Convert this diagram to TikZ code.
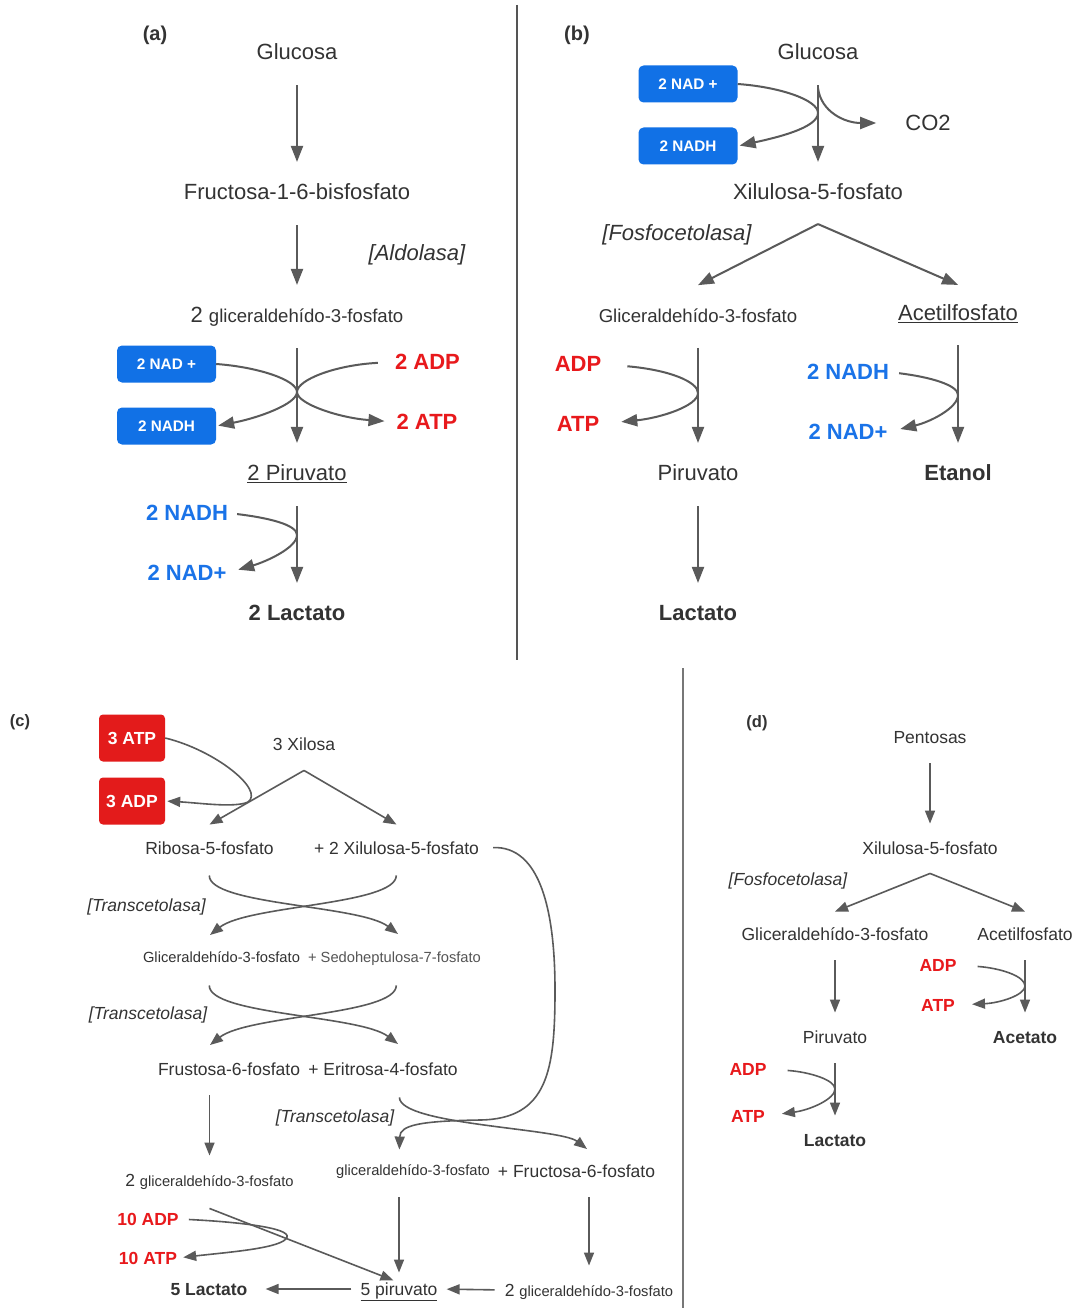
\documentclass[tikz,border=0pt]{standalone}
\usepackage{fontspec}
\setmainfont{Liberation Sans}
\usetikzlibrary{arrows.meta,calc}

\definecolor{txtgray}{HTML}{333333}
\definecolor{arrgray}{HTML}{5A5A5A}
\definecolor{divgray}{HTML}{555555}
\definecolor{nadblue}{HTML}{1A73E8}
\definecolor{boxblue}{HTML}{1171E6}
\definecolor{atpred}{HTML}{E8191C}
\definecolor{boxred}{HTML}{E31B1B}

\newcommand{\fsz}[1]{\fontsize{#1}{#1}\selectfont}

\tikzset{
  every node/.style={inner sep=0pt, text=txtgray},
  big/.style={font=\fsz{22}, text height=15.75pt, text depth=0pt},
  bigb/.style={big, font=\fsz{22}\bfseries},
  bigi/.style={big, font=\fsz{22}\itshape},
  med/.style={font=\fsz{18.6}, text height=13.3pt, text depth=0pt},
  mid/.style={font=\fsz{17.5}, text height=12.5pt, text depth=0pt},
  midb/.style={mid, font=\fsz{17.5}\bfseries},
  midi/.style={mid, font=\fsz{17.5}\itshape},
  sml/.style={font=\fsz{14.7}, text height=10.5pt, text depth=0pt},
  lab/.style={font=\fsz{20}\bfseries, text height=14.5pt, text depth=0pt},
  labc/.style={font=\fsz{16.5}\bfseries, text height=12pt, text depth=0pt},
  redt/.style={text=atpred},
  bluet/.style={text=nadblue},
  nadbox/.style={fill=boxblue, rounded corners=5pt, minimum width=99pt, minimum height=37pt,
    text=white, font=\fsz{15.3}\bfseries, text height=11pt, text depth=0pt},
  atpbox/.style={fill=boxred, rounded corners=4pt, minimum width=66pt, minimum height=47pt,
    text=white, font=\fsz{17.5}\bfseries, text height=12.5pt, text depth=0pt},
  arr/.style={draw=arrgray, line width=2pt, -{Triangle[length=16pt,width=12pt]}},
  arrc/.style={draw=arrgray, line width=1.6pt, -{Triangle[length=13pt,width=10pt]}},
  flow/.style={arr, shorten <=25pt, shorten >=22pt},
  flowc/.style={arrc, shorten <=20pt, shorten >=18pt}
}

\begin{document}
\begin{tikzpicture}[x=1pt,y=-1pt]
\fill[white] (0,0) rectangle (1078,1308);
\useasboundingbox (0,0) rectangle (1078,1308);

% dividers
\draw[line width=2pt, draw=divgray] (517,5) -- (517,660);
\draw[line width=1.5pt, draw=divgray!80] (683,668) -- (683,1308);

% (a) glucolisis
\node[lab] (labA) at (155,33) {(a)};
\node[big] (gluA) at (297,52) {Glucosa};
\node[big] (fruA) at (297,192) {Fructosa-1-6-bisfosfato};
\node[bigi] (aldA) at (417,253) {[Aldolasa]};
\node[big] (gapA) at (297,315) {2 {\fsz{18.6}gliceraldehído-3-fosfato}};
\node[nadbox] (nadA) at (166.5,364) {2 NAD +};
\node[nadbox] (nadhA) at (166.5,426) {2 NADH};
\node[bigb, redt] (adpA) at (427.5,362) {2 ADP};
\node[bigb, redt] (atpA) at (427,422) {2 ATP};
\node[big] (pirA) at (297,473) {\underline{2 Piruvato}};
\node[bigb, bluet] (nadhA2) at (187,513) {2 NADH};
\node[bigb, bluet] (nadA2) at (187,573) {2 NAD+};
\node[bigb] (lacA) at (297,613) {2 Lactato};
\coordinate (mA) at (297,392);
\coordinate (mA2) at (297,535);

\draw[flow] (gluA) -- (fruA);
\draw[flow] (fruA) -- (gapA);
\draw[flow] (gapA) -- (pirA);
\draw[flow] (pirA) -- (lacA);
\draw[arr, shorten >=2pt] (nadA.east) .. controls (258,367) and (297,380) .. (mA)
  .. controls (297,404) and (258,418) .. (nadhA.east);
\draw[arr, shorten <=17pt, shorten >=12pt] (adpA.west) .. controls (335,365) and (297,380) .. (mA)
  .. controls (297,404) and (340,418) .. (atpA.west);
\draw[arr, shorten <=9pt, shorten >=12pt] (nadhA2.east) .. controls (270,518) and (297,525) .. (mA2)
  .. controls (297,548) and (265,562) .. (nadA2.east);

% (b) fosfocetolasa
\node[lab] (labB) at (577,33) {(b)};
\node[big] (gluB) at (818,52) {Glucosa};
\node[nadbox] (nadB) at (688,84) {2 NAD +};
\node[nadbox] (nadhB) at (688,146) {2 NADH};
\node[big] (co2B) at (928,123) {CO2};
\node[big] (xilB) at (818,192) {Xilulosa-5-fosfato};
\node[bigi] (fosB) at (677,233) {[Fosfocetolasa]};
\node[med] (glB) at (698,316) {Gliceraldehído-3-fosfato};
\node[big] (acetB) at (958,313) {\underline{Acetilfosfato}};
\node[bigb, redt] (adpB) at (578,364) {ADP};
\node[bigb, redt] (atpB) at (578,424) {ATP};
\node[bigb, bluet] (nadhB2) at (848,372) {2 NADH};
\node[bigb, bluet] (nadB2) at (848,432) {2 NAD+};
\node[big] (pirB) at (698,473) {Piruvato};
\node[bigb] (etB) at (958,473) {Etanol};
\node[bigb] (lacB) at (698,613) {Lactato};
\coordinate (mB) at (818,113);
\coordinate (mB2) at (698,393);
\coordinate (mB3) at (958,395);

\draw[flow] (gluB) -- (xilB);
\draw[arr, shorten >=2pt] (nadB.east) .. controls (780,87) and (818,100) .. (mB)
  .. controls (818,128) and (775,138) .. (nadhB.east);
\draw[arr, shorten >=29pt] ([yshift=-28pt]gluB.south) .. controls (821,112) and (845,123) .. (co2B.west);
\draw[arr] ([yshift=-24pt]xilB.south) -- ([yshift=24pt]glB.north);
\draw[arr] ([yshift=-24pt]xilB.south) -- ([yshift=20pt]acetB.north);
\draw[flow] (glB) -- (pirB);
\draw[flow, shorten <=24pt] (acetB) -- (etB);
\draw[flow] (pirB) -- (lacB);
\draw[arr, shorten <=26pt, shorten >=22pt] (adpB.east) .. controls (670,370) and (698,382) .. (mB2)
  .. controls (698,406) and (660,418) .. (atpB.east);
\draw[arr, shorten <=10pt, shorten >=13pt] (nadhB2.east) .. controls (930,377) and (958,385) .. (mB3)
  .. controls (958,408) and (930,422) .. (nadB2.east);

% (c) pentosas fosfato
\node[labc] (labC) at (20,720) {(c)};
\node[atpbox] (atpC) at (132,738) {3 ATP};
\node[atpbox] (adpC) at (132,801) {3 ADP};
\node[mid] (xilC) at (304,744) {3 Xilosa};
\node[mid] (riboC) at (209.5,848) {Ribosa-5-fosfato};
\node[mid] (xil2C) at (396.5,848) {+ 2 Xilulosa-5-fosfato};
\node[midi] (tra1C) at (146.5,905) {[Transcetolasa]};
\node[sml] (gsC) at (221.5,957) {Gliceraldehído-3-fosfato};
\node[sml, text=divgray] (sedC) at (394.5,957) {+ Sedoheptulosa-7-fosfato};
\node[midi] (tra2C) at (148,1013) {[Transcetolasa]};
\node[mid] (frC) at (229,1069) {Frustosa-6-fosfato};
\node[mid] (erC) at (383,1069) {+ Eritrosa-4-fosfato};
\node[midi] (tra3C) at (335,1116) {[Transcetolasa]};
\node[mid] (gap2C) at (209.5,1180) {2 {\fsz{14.7}gliceraldehído-3-fosfato}};
\node[sml] (gp1C) at (413,1170) {gliceraldehído-3-fosfato};
\node[mid] (fr6C) at (576.5,1171) {+ Fructosa-6-fosfato};
\node[midb, redt] (adp10) at (148,1219) {10 ADP};
\node[midb, redt] (atp10) at (148,1258) {10 ATP};
\node[midb] (lac5C) at (209,1289) {5 Lactato};
\node[mid] (pir5C) at (399,1289) {\underline{5 piruvato}};
\node[mid] (g3C) at (589,1290) {2 {\fsz{14.7}gliceraldehído-3-fosfato}};
\coordinate (tC) at (248,802);
\coordinate (tC2) at (287,1237);
\coordinate (x1R) at (398,934);
\coordinate (x1L) at (210,935);
\coordinate (x2R) at (398,1044);
\coordinate (x2L) at (210,1045);
\coordinate (frTip) at (587,1149);

\draw[arrc, shorten >=2pt] (atpC.east) .. controls (215,750) and (265,790) .. (tC)
  .. controls (235,808) and (200,803) .. (adpC.east);
\draw[arrc] ([yshift=-20pt]xilC.south) -- ([yshift=17pt]riboC.north);
\draw[arrc] ([yshift=-20pt]xilC.south) -- ([yshift=17pt]xil2C.north);
\draw[arrc, shorten <=21pt] (riboC.south) .. controls (209,905) and (360,905) .. (x1R);
\draw[arrc, shorten <=21pt] (xil2C.south) .. controls (396,905) and (248,905) .. (x1L);
\draw[arrc, shorten <=23pt] (riboC |- gsC.south) .. controls (209,1015) and (360,1015) .. (x2R);
\draw[arrc, shorten <=23pt] (xil2C |- sedC.south) .. controls (396,1015) and (248,1015) .. (x2L);
\draw[arrc, shorten <=14pt, shorten >=15pt] (xil2C.east) .. controls (540,846) and (555,910) .. (555,990)
  .. controls (555,1070) and (548,1119) .. (480,1120) .. controls (420,1121) and (400,1125) .. (pir5C |- gp1C.north);
\draw[arrc, shorten <=22pt] (pir5C |- erC.south) .. controls (400,1125) and (560,1128) .. (frTip);
\draw[flowc] (gap2C |- frC.south) -- (gap2C.north);
\draw[flowc, shorten <=22pt, shorten >=10pt] (pir5C |- gp1C.south) -- (pir5C.north);
\draw[flowc] (g3C |- fr6C.south) -- (g3C.north);
\draw[arrc, shorten >=6pt] ([yshift=-22pt]gap2C.south) -- (pir5C.north);
\draw[arrc, shorten <=10pt, shorten >=6pt] (adp10.east) .. controls (240,1222) and (290,1228) .. (tC2)
  .. controls (284,1248) and (230,1252) .. (atp10.east);
\draw[arrc, shorten <=9pt, shorten >=18pt] (pir5C.west) -- (lac5C.east);
\draw[arrc, shorten <=10pt, shorten >=9pt] (g3C.west) -- (pir5C.east);

% (d) pentosas
\node[labc] (labD) at (757,721) {(d)};
\node[mid] (pentD) at (930,737) {Pentosas};
\node[mid] (xilD) at (930,848) {Xilulosa-5-fosfato};
\node[midi] (fosD) at (788,879) {[Fosfocetolasa]};
\node[mid] (glD) at (835,934) {Gliceraldehído-3-fosfato};
\node[mid] (acD) at (1025,934) {Acetilfosfato};
\node[midb, redt] (adpD1) at (938,965) {ADP};
\node[midb, redt] (atpD1) at (938,1005) {ATP};
\node[mid] (pirD) at (835,1037) {Piruvato};
\node[midb] (acetD) at (1025,1037) {Acetato};
\node[midb, redt] (adpD2) at (748,1069) {ADP};
\node[midb, redt] (atpD2) at (748,1116) {ATP};
\node[midb] (lacD) at (835,1140) {Lactato};
\coordinate (mD1) at (1025,986);
\coordinate (mD2) at (835,1089);

\draw[flowc] (pentD) -- (xilD);
\draw[arrc] ([yshift=-19pt]xilD.south) -- ([yshift=16pt]glD.north);
\draw[arrc] ([yshift=-19pt]xilD.south) -- ([yshift=16pt]acD.north);
\draw[flowc] (glD) -- (pirD);
\draw[flowc] (acD) -- (acetD);
\draw[flowc] (pirD) -- (lacD);
\draw[arrc, shorten <=21pt, shorten >=17pt] (adpD1.east) .. controls (1000,968) and (1025,976) .. (mD1)
  .. controls (1025,995) and (1000,1003) .. (atpD1.east);
\draw[arrc, shorten <=21pt, shorten >=17pt] (adpD2.east) .. controls (810,1072) and (835,1080) .. (mD2)
  .. controls (835,1099) and (810,1110) .. (atpD2.east);
\end{tikzpicture}
\end{document}
